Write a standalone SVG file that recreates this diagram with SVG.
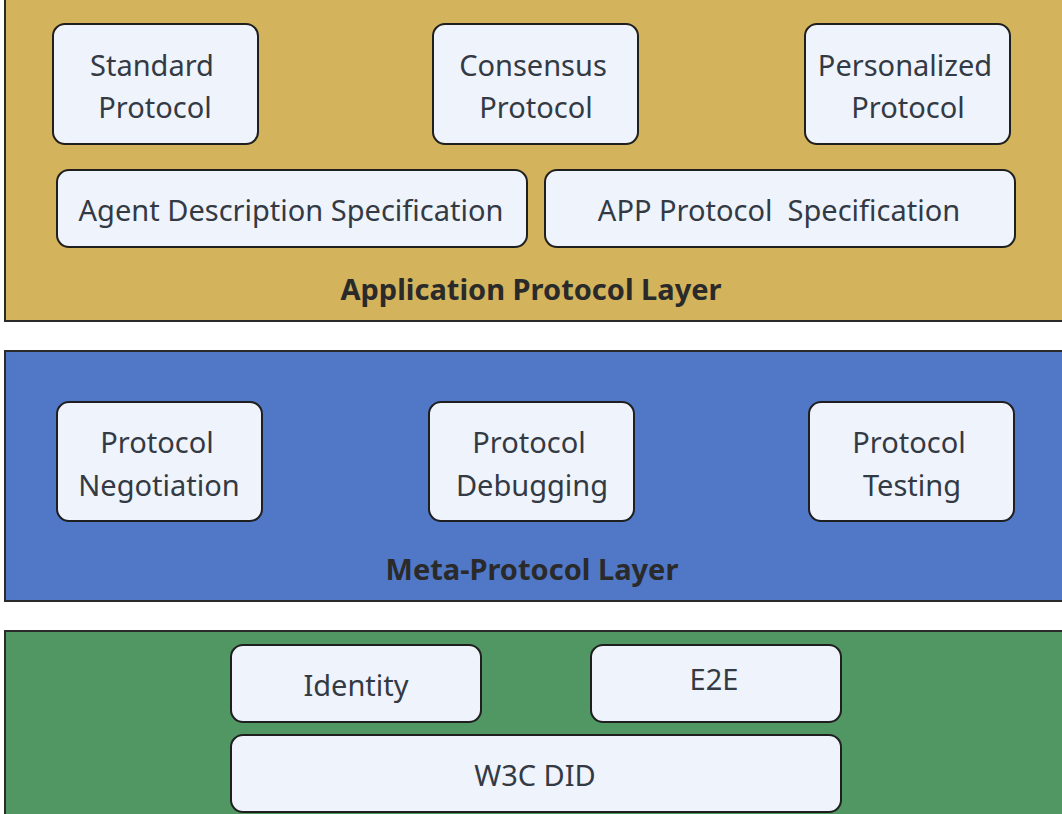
<svg xmlns="http://www.w3.org/2000/svg" width="1062" height="814" viewBox="0 0 1062 814">
<style>
.layer{stroke:#2a2a2a;stroke-width:2}
.node rect{fill:#EEF3FC;stroke:#1f1f1f;stroke-width:2}
.t{font-family:"Noto Sans","Open Sans",sans-serif;font-size:29px;fill:#333a44;text-anchor:middle}
.h{font-family:"Noto Sans","Open Sans",sans-serif;font-size:29px;font-weight:bold;fill:#2a2a2a;text-anchor:middle}
</style>
<rect width="1062" height="814" fill="#ffffff"/>
<g id="layer-app">
<rect class="layer" x="5" y="-2" width="1062" height="323" fill="#D3B35C"/>
<text class="h" x="531" y="300">Application Protocol Layer</text>
</g>
<g id="layer-meta">
<rect class="layer" x="5" y="351" width="1062" height="250" fill="#5078C6"/>
<text class="h" x="532" y="580">Meta-Protocol Layer</text>
</g>
<g id="layer-base">
<rect class="layer" x="5" y="631" width="1062" height="190" fill="#519764"/>
</g>
<g id="n-standard" class="node"><rect x="53" y="24" width="205" height="120" rx="12"/><text class="t" x="152" y="76">Standard</text><text class="t" x="155" y="118">Protocol</text></g>
<g id="n-consensus" class="node"><rect x="433" y="24" width="205" height="120" rx="12"/><text class="t" x="533" y="76">Consensus</text><text class="t" x="536" y="118">Protocol</text></g>
<g id="n-personalized" class="node"><rect x="805" y="24" width="205" height="120" rx="12"/><text class="t" x="905" y="76">Personalized</text><text class="t" x="908" y="118">Protocol</text></g>
<g id="n-agentdesc" class="node"><rect x="57" y="170" width="470" height="77" rx="12"/><text class="t" x="291" y="221">Agent Description Specification</text></g>
<g id="n-appproto" class="node"><rect x="545" y="170" width="470" height="77" rx="12"/><text class="t" x="779" y="221" xml:space="preserve">APP Protocol  Specification</text></g>
<g id="n-negotiation" class="node"><rect x="57" y="402" width="205" height="119" rx="12"/><text class="t" x="157" y="453">Protocol</text><text class="t" x="159" y="496">Negotiation</text></g>
<g id="n-debugging" class="node"><rect x="429" y="402" width="205" height="119" rx="12"/><text class="t" x="529" y="453">Protocol</text><text class="t" x="532" y="496">Debugging</text></g>
<g id="n-testing" class="node"><rect x="809" y="402" width="205" height="119" rx="12"/><text class="t" x="909" y="453">Protocol</text><text class="t" x="912" y="496">Testing</text></g>
<g id="n-identity" class="node"><rect x="231" y="645" width="250" height="77" rx="12"/><text class="t" x="356" y="696">Identity</text></g>
<g id="n-e2e" class="node"><rect x="591" y="645" width="250" height="77" rx="12"/><text class="t" x="714" y="690">E2E</text></g>
<g id="n-w3cdid" class="node"><rect x="231" y="735" width="610" height="77" rx="12"/><text class="t" x="535" y="786">W3C DID</text></g>
<g id="connectors"></g>
</svg>
